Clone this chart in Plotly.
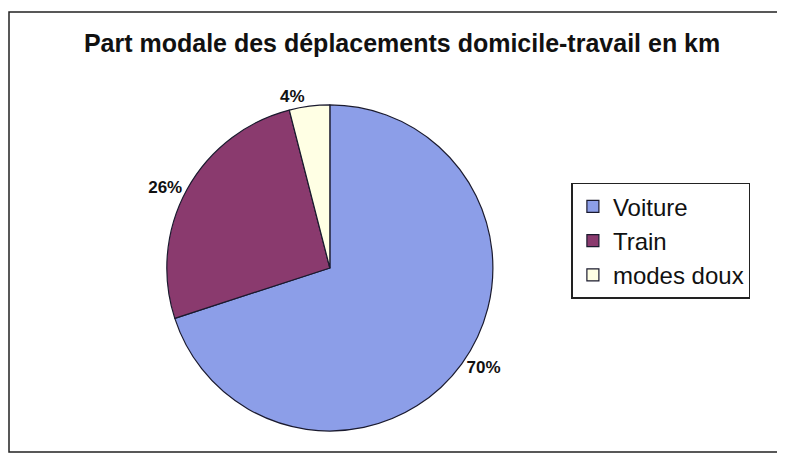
import plotly.graph_objects as go

# donnees du graphique
modes = ["Voiture", "Train", "modes doux"]
parts = [70, 26, 4]
couleurs = ["#8C9EE8", "#8A3A6E", "#FFFFE4"]

W, H = 785, 453

fig = go.Figure()
fig.add_trace(go.Pie(
    labels=modes,
    values=parts,
    sort=False,
    direction="clockwise",
    rotation=0,
    marker=dict(colors=couleurs, line=dict(color="#1a1a2e", width=1.2)),
    textposition="outside",
    texttemplate="<b>%{percent:.0%}</b>",
    textfont=dict(family="Liberation Sans, Arial", size=17, color="#111111"),
    domain=dict(x=[0.19, 0.63], y=[0.0662, 0.786]),
    hoverinfo="label+percent",
))

fig.update_layout(
    width=W, height=H,
    margin=dict(l=0, r=0, t=0, b=0, autoexpand=False),
    paper_bgcolor="white",
    title=dict(
        text="<b>Part modale des déplacements domicile-travail en km</b>",
        x=0.502, xanchor="center", y=0.922, yanchor="middle",
        font=dict(family="Liberation Sans, Arial", size=25, color="#111111"),
    ),
    legend=dict(
        x=0.7177, y=0.614, xanchor="left", yanchor="top",
        bordercolor="#222222", borderwidth=1.5, bgcolor="white",
        font=dict(family="Liberation Sans, Arial", size=24, color="#111111"),
    ),
    # cadre du graphique
    shapes=[dict(type="rect", xref="paper", yref="paper",
                 x0=1 / W, x1=776 / W, y0=9 / H, y1=449 / H,
                 line=dict(color="#222222", width=1.5))],
)

fig.write_html("out.html")
